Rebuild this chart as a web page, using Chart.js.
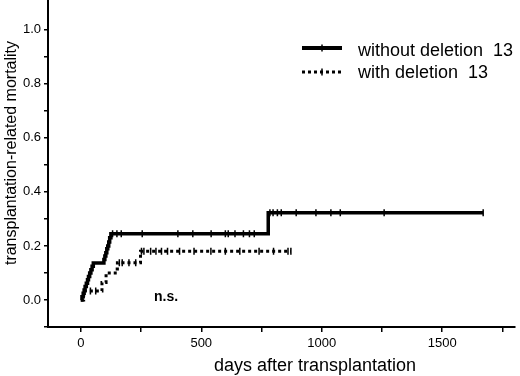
<!DOCTYPE html>
<html>
<head>
<meta charset="utf-8">
<script src="https://cdn.jsdelivr.net/npm/chart.js@4.4.1/dist/chart.umd.min.js"></script>
<style>
  body { margin: 0; background: #fff; }
</style>
</head>
<body>
<canvas id="myChart" width="520" height="376"></canvas>
<script>
// step curves (day of event, cumulative mortality after it)
var withoutDays = [0, 5, 10, 14, 18, 23, 28, 32, 37, 42, 47, 52, 96, 100, 104, 108, 112, 116, 120, 125, 778, 1670];
var withoutMortality = [0, 0.012, 0.025, 0.037, 0.05, 0.062, 0.075, 0.087, 0.10, 0.112, 0.125, 0.137, 0.15, 0.163, 0.175, 0.19, 0.20, 0.215, 0.23, 0.245, 0.323, 0.323];
var withoutCensored = [132, 150, 168, 255, 403, 465, 541, 600, 612, 640, 675, 700, 720, 785, 798, 816, 832, 894, 976, 1038, 1077, 1259, 1670];

var withDays = [0, 12, 88, 105, 143, 152, 248, 872];
var withMortality = [0, 0.033, 0.065, 0.10, 0.115, 0.138, 0.18, 0.18];
var withCensored = [40, 62, 160, 172, 200, 228, 252, 262, 290, 312, 335, 360, 410, 470, 540, 600, 660, 740, 800, 860, 872];

var legends = ['without deletion  13', 'with deletion  13'];
var xTickLabels = [0, 500, 1000, 1500];
var yTickLabels = [0.0, 0.2, 0.4, 0.6, 0.8, 1.0];

function toPoints(xs, ys) {
    var pts = [];
    for (var i = 0; i < xs.length; i++) {
        pts.push({x: xs[i], y: ys[i]});
    }
    return pts;
}

// value of the step curve at day t
function stepValue(days, values, t) {
    var v = values[0];
    for (var i = 0; i < days.length; i++) {
        if (days[i] <= t) v = values[i];
    }
    return v;
}

function censorPoints(days, values, cens) {
    return cens.map(function (t) {
        return {x: t, y: stepValue(days, values, t)};
    });
}

const overlay = {
    id: 'overlay',
    afterDraw(chart) {
        const ctx = chart.ctx;
        ctx.save();
        ctx.fillStyle = '#000';
        ctx.strokeStyle = '#000';

        // y axis line continues to the top edge
        ctx.lineWidth = 2;
        ctx.beginPath(); ctx.moveTo(chart.chartArea.left, 0); ctx.lineTo(chart.chartArea.left, chart.chartArea.top); ctx.stroke();

        // legend
        ctx.lineWidth = 4;
        ctx.beginPath(); ctx.moveTo(302, 48); ctx.lineTo(342, 48); ctx.stroke();
        ctx.lineWidth = 1.5;
        ctx.beginPath(); ctx.moveTo(322, 44.5); ctx.lineTo(322, 51.5); ctx.stroke();
        ctx.lineWidth = 3;
        ctx.setLineDash([3, 3]);
        ctx.beginPath(); ctx.moveTo(302, 72); ctx.lineTo(343, 72); ctx.stroke();
        ctx.setLineDash([]);
        ctx.lineWidth = 1.5;
        ctx.beginPath(); ctx.moveTo(322, 68.5); ctx.lineTo(322, 75.5); ctx.stroke();

        ctx.font = '18px "Liberation Sans", Arial, sans-serif';
        ctx.textAlign = 'left';
        ctx.textBaseline = 'middle';
        ctx.fillText(legends[0], 358, 51);
        ctx.fillText(legends[1], 358, 73);

        // n.s.
        ctx.font = 'bold 14px "Liberation Sans", Arial, sans-serif';
        ctx.textAlign = 'center';
        ctx.fillText('n.s.', 166, 297);

        // axis titles
        ctx.font = '18px "Liberation Sans", Arial, sans-serif';
        ctx.textBaseline = 'alphabetic';
        ctx.fillText('days after transplantation', 315, 371);

        ctx.translate(12, 153);
        ctx.rotate(-Math.PI / 2);
        ctx.font = '16px "Liberation Sans", Arial, sans-serif';
        ctx.textBaseline = 'middle';
        ctx.fillText('transplantation-related mortality', 0, 0);
        ctx.restore();
    }
};

const data = {
    datasets: [{
        label: legends[0],
        data: toPoints(withoutDays, withoutMortality),
        showLine: true,
        stepped: 'before',
        borderColor: '#000',
        borderWidth: 3.5,
        pointRadius: 0
    }, {
        label: legends[0] + ' censored',
        data: censorPoints(withoutDays, withoutMortality, withoutCensored),
        pointStyle: 'line',
        rotation: 90,
        pointRadius: 3.5,
        borderColor: '#000',
        borderWidth: 1.5
    }, {
        label: legends[1],
        data: toPoints(withDays, withMortality),
        showLine: true,
        stepped: 'before',
        borderColor: '#000',
        borderWidth: 3,
        borderDash: [3, 3],
        pointRadius: 0
    }, {
        label: legends[1] + ' censored',
        data: censorPoints(withDays, withMortality, withCensored),
        pointStyle: 'line',
        rotation: 90,
        pointRadius: 3.5,
        borderColor: '#000',
        borderWidth: 1.5
    }]
};

const config = {
    type: 'scatter',
    data: data,
    plugins: [overlay],
    options: {
        responsive: false,
        animation: false,
        layout: { padding: { top: 0, right: 2, left: 0, bottom: 0 } },
        plugins: {
            legend: { display: false },
            tooltip: { enabled: false }
        },
        scales: {
            x: {
                type: 'linear',
                min: -136,
                max: 1800,
                afterFit: function (scale) {
                    scale.height = 49;
                    scale.paddingLeft = 0;
                    scale.paddingRight = 0;
                },
                afterBuildTicks: function (scale) {
                    scale.ticks = scale.ticks.filter(function (t) { return t.value >= 0 && t.value % 250 === 0; });
                },
                ticks: {
                    stepSize: 250,
                    includeBounds: false,
                    autoSkip: false,
                    maxRotation: 0,
                    padding: 4,
                    color: '#000',
                    font: { family: '"Liberation Sans", Arial, sans-serif', size: 13 },
                    callback: function (value) {
                        return xTickLabels.indexOf(value) >= 0 ? String(value) : '';
                    }
                },
                grid: { drawOnChartArea: false, drawTicks: true, tickLength: 5, color: '#000', lineWidth: 1.5 },
                border: { display: true, color: '#000', width: 2 }
            },
            y: {
                min: -0.1,
                max: 1.09,
                afterFit: function (scale) {
                    scale.width = 48;
                    scale.paddingTop = 0;
                    scale.paddingBottom = 0;
                },
                afterBuildTicks: function (scale) {
                    scale.ticks = scale.ticks.filter(function (t) { return t.value <= 1.05; });
                },
                ticks: {
                    stepSize: 0.1,
                    includeBounds: false,
                    autoSkip: false,
                    padding: 3,
                    color: '#000',
                    font: { family: '"Liberation Sans", Arial, sans-serif', size: 13 },
                    callback: function (value) {
                        for (var i = 0; i < yTickLabels.length; i++) {
                            if (Math.abs(yTickLabels[i] - value) < 1e-6) return yTickLabels[i].toFixed(1);
                        }
                        return '';
                    }
                },
                grid: { drawOnChartArea: false, drawTicks: true, tickLength: 4, color: '#000', lineWidth: 1.5 },
                border: { display: true, color: '#000', width: 2 }
            }
        }
    }
};

var myChart = new Chart(document.getElementById('myChart'), config);
</script>
</body>
</html>
